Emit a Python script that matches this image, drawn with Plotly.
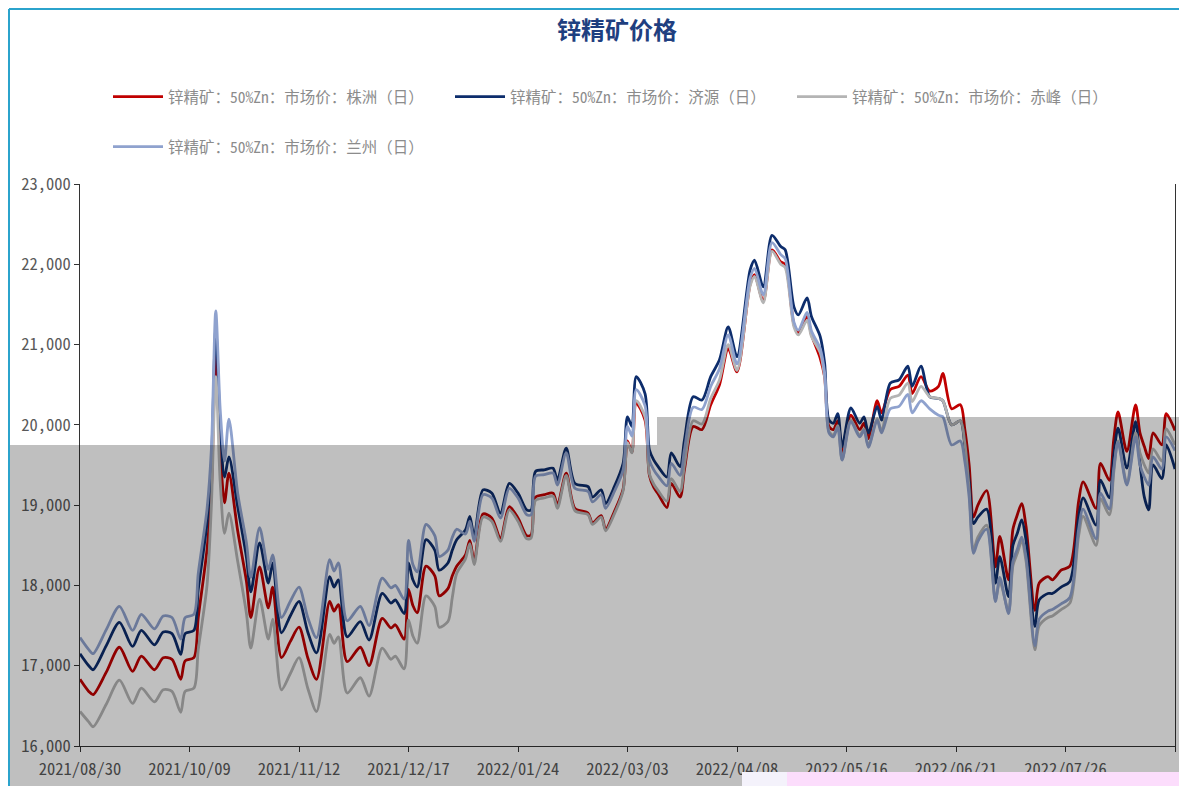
import pandas as pd
import plotly.graph_objects as go

# ---- trading-day calendar (categories) ----
start_date = "2021-08-30"
end_date = "2022-08-30"
holidays = ["2021-09-20", "2021-09-21", "2021-10-01", "2021-10-04", "2021-10-05",
            "2021-10-06", "2021-10-07", "2022-01-03", "2022-01-31", "2022-02-01",
            "2022-02-02", "2022-02-03", "2022-02-04", "2022-04-04", "2022-04-05",
            "2022-05-02", "2022-05-03", "2022-05-04", "2022-06-03"]
makeup_days = ["2021-09-18", "2021-09-26", "2021-10-09", "2022-01-29", "2022-01-30",
               "2022-04-02", "2022-04-24", "2022-05-07"]

days = pd.bdate_range(start_date, end_date)
days = days[~days.isin(pd.to_datetime(holidays))]
days = days.union(pd.to_datetime(makeup_days)).sort_values()
dates = [d.strftime("%Y/%m/%d") for d in days]
tick_dates = dates[::25]
tick_text = tick_dates[:-1] + [""]

# ---- sampled readings (trading-day index -> value) ----
sample_idx = [0, 2, 3, 6, 9, 12, 14, 17, 19, 21, 23, 24, 26, 27, 29, 30, 31, 32, 33, 34,
              36, 38, 39, 41, 43, 44, 46, 48, 50, 52, 54, 57, 58, 59, 61, 64, 66, 69, 71, 72,
              74, 75, 76, 77, 79, 81, 82, 84, 85, 86, 88, 89, 90, 92, 94, 96, 98, 100, 102, 103,
              104, 106, 108, 109, 111, 113, 116, 117, 119, 120, 122, 124, 125, 126, 127, 129, 130, 131, 132, 134,
              135, 137, 138, 140, 142, 144, 146, 148, 150, 153, 154, 156, 158, 160, 161, 163, 164, 166, 167, 169,
              170, 171, 172, 173, 174, 176, 178, 179, 180, 182, 183, 185, 187, 189, 190, 192, 194, 196, 197, 199,
              201, 202, 203, 204, 205, 207, 209, 210, 212, 213, 214, 215, 216, 218, 219, 221, 222, 224, 226, 228,
              229, 232, 233, 235, 236, 237, 239, 241, 242, 243, 244, 245, 247, 248, 250]

zhuzhou = [16830, 16680, 16640, 16920, 17230, 16930, 17120, 16950, 17100, 17080, 16830, 17060, 17100, 17600, 18450, 19200, 20930, 19700, 19030, 19400,
           18680, 18050, 17600, 18230, 17720, 17980, 17100, 17300, 17480, 17100, 16830, 17800, 17680, 17760, 17050, 17230, 17000, 17590, 17470, 17510,
           17330, 17950, 17750, 17660, 18240, 18120, 17870, 17960, 18120, 18240, 18380, 18560, 18300, 18890, 18840, 18590, 18980, 18840, 18620, 18630,
           19100, 19130, 19150, 19000, 19400, 18960, 18900, 18780, 18870, 18700, 18920, 19200, 19800, 19660, 20270, 20060, 19370, 19220, 19140, 18970,
           19270, 19100, 19440, 19980, 19940, 20250, 20500, 20950, 20660, 21750, 21870, 21540, 22180, 22030, 22000, 21250, 21150, 21350, 21120, 20830,
           20600, 19980, 19940, 20050, 19650, 20120, 19940, 20020, 19830, 20300, 20150, 20440, 20480, 20620, 20390, 20600, 20420, 20480, 20640, 20200,
           20250, 19950, 19500, 18850, 19000, 19180, 18230, 18610, 18070, 18700, 18880, 19020, 18730, 17690, 18030, 18110, 18070, 18190, 18240, 19050,
           19290, 18960, 19520, 19310, 19810, 20160, 19670, 20250, 19900, 19730, 19580, 19900, 19750, 20140, 19930]

jiyuan = [17150, 17000, 16950, 17250, 17540, 17240, 17440, 17260, 17420, 17400, 17140, 17400, 17440, 17950, 18780, 19520, 21200, 20000, 19350, 19600,
          18980, 18350, 17920, 18530, 18030, 18280, 17410, 17620, 17800, 17420, 17160, 18110, 17980, 18070, 17360, 17550, 17320, 17900, 17780, 17820,
          17650, 18280, 18070, 17980, 18570, 18440, 18190, 18280, 18440, 18570, 18690, 18860, 18610, 19190, 19150, 18900, 19270, 19150, 18940, 18940,
          19420, 19440, 19460, 19310, 19710, 19270, 19230, 19100, 19190, 19020, 19230, 19520, 20100, 19980, 20600, 20390, 19690, 19560, 19480, 19350,
          19650, 19480, 19810, 20350, 20310, 20600, 20810, 21220, 20850, 21930, 22050, 21720, 22360, 22220, 22180, 21470, 21370, 21580, 21350, 21100,
          20770, 20060, 20020, 20140, 19730, 20210, 20020, 20100, 19900, 20230, 20060, 20520, 20560, 20730, 20480, 20730, 20350, 20330, 20300, 20000,
          20050, 19750, 19300, 18770, 18850, 18950, 18030, 18360, 17860, 18500, 18650, 18815, 18560, 17490, 17820, 17900, 17900, 17980, 18050, 18850,
          19090, 18750, 19310, 19090, 19600, 19960, 19460, 20040, 19520, 19100, 18940, 19500, 19330, 19750, 19450]

chifeng = [16430, 16300, 16240, 16520, 16820, 16530, 16720, 16550, 16700, 16680, 16420, 16680, 16720, 17200, 18000, 19000, 20600, 19300, 18650, 18900,
           18300, 17650, 17220, 17830, 17330, 17580, 16700, 16900, 17100, 16720, 16430, 17390, 17280, 17360, 16660, 16850, 16620, 17220, 17080, 17120,
           16960, 17570, 17370, 17280, 17870, 17740, 17480, 17550, 17850, 18150, 18330, 18520, 18260, 18850, 18800, 18550, 18940, 18800, 18580, 18590,
           19060, 19090, 19110, 18960, 19370, 18930, 18880, 18760, 18850, 18680, 18890, 19180, 19780, 19650, 20300, 20100, 19390, 19260, 19180, 19050,
           19330, 19170, 19500, 20050, 20010, 20330, 20560, 21000, 20680, 21730, 21850, 21520, 22160, 22000, 21960, 21220, 21120, 21300, 21100, 20900,
           20600, 19920, 19870, 19990, 19570, 20060, 19870, 19950, 19740, 20080, 19920, 20330, 20370, 20520, 20290, 20480, 20350, 20330, 20300, 20000,
           20050, 19780, 19200, 18450, 18600, 18750, 17820, 18050, 17680, 18250, 18400, 18550, 18300, 17200, 17500, 17600, 17620, 17700, 17780, 18620,
           18860, 18500, 19080, 18880, 19400, 19800, 19280, 19900, 19650, 19500, 19400, 19700, 19550, 19950, 19750]

lanzhou = [17350, 17200, 17150, 17450, 17740, 17440, 17640, 17460, 17620, 17600, 17330, 17600, 17640, 18150, 18950, 19700, 21420, 20200, 19550, 20070,
           19150, 18530, 18100, 18720, 18200, 18380, 17600, 17800, 17980, 17600, 17350, 18320, 18180, 18280, 17560, 17740, 17500, 18090, 17970, 18000,
           17830, 18560, 18260, 18170, 18760, 18620, 18360, 18440, 18600, 18700, 18640, 18800, 18550, 19130, 19090, 18840, 19210, 19090, 18880, 18880,
           19360, 19380, 19400, 19250, 19650, 19210, 19170, 19040, 19130, 18960, 19170, 19440, 19980, 19860, 20440, 20240, 19560, 19440, 19360, 19240,
           19520, 19370, 19690, 20220, 20190, 20480, 20700, 21120, 20760, 21830, 21950, 21620, 22270, 22120, 22070, 21280, 21180, 21400, 21170, 20950,
           20650, 19900, 19850, 19970, 19560, 20040, 19850, 19930, 19720, 20060, 19900, 20200, 20230, 20380, 20150, 20300, 20200, 20120, 20100, 19750,
           19800, 19550, 19100, 18400, 18550, 18700, 17800, 18100, 17650, 18300, 18450, 18600, 18350, 17250, 17580, 17680, 17700, 17770, 17850, 18700,
           18950, 18580, 19150, 18950, 19450, 19780, 19250, 19850, 19500, 19350, 19250, 19600, 19450, 19850, 19680]

series_names = ["锌精矿：50%Zn：市场价：株洲（日）", "锌精矿：50%Zn：市场价：济源（日）",
                "锌精矿：50%Zn：市场价：赤峰（日）", "锌精矿：50%Zn：市场价：兰州（日）"]
y_ticks = [16000, 17000, 18000, 19000, 20000, 21000, 22000, 23000]

colors = ["#C00000", "#0D2D6C", "#B4B4B4", "#8FA2CE"]
legends = ["legend", "legend", "legend", "legend2"]
sample_x = [dates[i] for i in sample_idx]

fig = go.Figure()
for name, vals, col, lg in zip(series_names, [zhuzhou, jiyuan, chifeng, lanzhou], colors, legends):
    fig.add_trace(go.Scatter(x=sample_x, y=vals, name=name, mode="lines",
                             line=dict(color=col, width=2.8, shape="spline", smoothing=0.8),
                             legend=lg))

W, H = 1179, 786
L, R, T, B = 80, 4, 184, 40
pw, ph = W - L - R, H - T - B


def px(x):
    return (x - L) / pw


def py(y):
    return 1 - (y - T) / ph


font_family = "Noto Sans CJK SC"
mono_family = "Noto Sans Mono CJK SC"
shapes = [
    # darkening overlay present in the reference
    dict(type="rect", xref="paper", yref="paper", x0=px(10), x1=px(657), y0=py(786), y1=py(445),
         fillcolor="rgba(0,0,0,0.25)", line=dict(width=0), layer="above"),
    dict(type="rect", xref="paper", yref="paper", x0=px(657), x1=px(1179), y0=py(786), y1=py(417),
         fillcolor="rgba(0,0,0,0.25)", line=dict(width=0), layer="above"),
    dict(type="rect", xref="paper", yref="paper", x0=px(742), x1=px(787), y0=py(786), y1=py(772),
         fillcolor="#F4F2FB", line=dict(width=0), layer="above"),
    dict(type="rect", xref="paper", yref="paper", x0=px(787), x1=px(1179), y0=py(786), y1=py(772),
         fillcolor="#FCDDFC", line=dict(width=0), layer="above"),
    # frame
    dict(type="line", xref="paper", yref="paper", x0=px(9), x1=px(9), y0=py(786), y1=py(9),
         line=dict(color="#2BA3CC", width=2), layer="above"),
    dict(type="line", xref="paper", yref="paper", x0=px(9), x1=px(1179), y0=py(9), y1=py(9),
         line=dict(color="#2BA3CC", width=2), layer="above"),
]

fig.update_layout(
    width=W, height=H,
    margin=dict(l=L, r=R, t=T, b=B, autoexpand=False),
    paper_bgcolor="white", plot_bgcolor="white",
    title=dict(text="锌精矿价格", x=617 / W, xanchor="center", y=1 - 31 / H, yanchor="middle",
               font=dict(family=font_family, size=24, color="#1F3F80", weight=700)),
    xaxis=dict(type="category", categoryorder="array", categoryarray=dates,
               range=[0, len(dates) - 1], tickmode="array", tickvals=tick_dates, ticktext=tick_text,
               ticks="outside", ticklen=5, tickcolor="#333333", showline=True, linecolor="#333333",
               linewidth=1, showgrid=False, tickangle=0, automargin=False, ticklabelstandoff=3,
               tickfont=dict(family=mono_family, size=16.5, color="#595959")),
    yaxis=dict(range=[16000, 23000], tickmode="array", tickvals=y_ticks, tickformat=",",
               ticks="outside", ticklen=5, tickcolor="#333333", showline=True, mirror=True,
               linecolor="#333333", linewidth=1, showgrid=False, zeroline=False, automargin=False,
               tickfont=dict(family=mono_family, size=16.5, color="#595959")),
    legend=dict(orientation="h", x=px(108), xanchor="left", y=py(97), yanchor="middle",
                entrywidth=277, entrywidthmode="pixels", itemwidth=50,
                font=dict(family=mono_family, size=15.5, color="#8C8C8C"), bgcolor="rgba(0,0,0,0)"),
    legend2=dict(orientation="h", x=px(108), xanchor="left", y=py(147), yanchor="middle",
                 itemwidth=50,
                 font=dict(family=mono_family, size=15.5, color="#8C8C8C"), bgcolor="rgba(0,0,0,0)"),
    shapes=shapes,
    showlegend=True,
)

fig.write_html("out.html", config={"displayModeBar": False},
               post_script="document.body.style.margin='0px';document.body.style.overflow='hidden';")
